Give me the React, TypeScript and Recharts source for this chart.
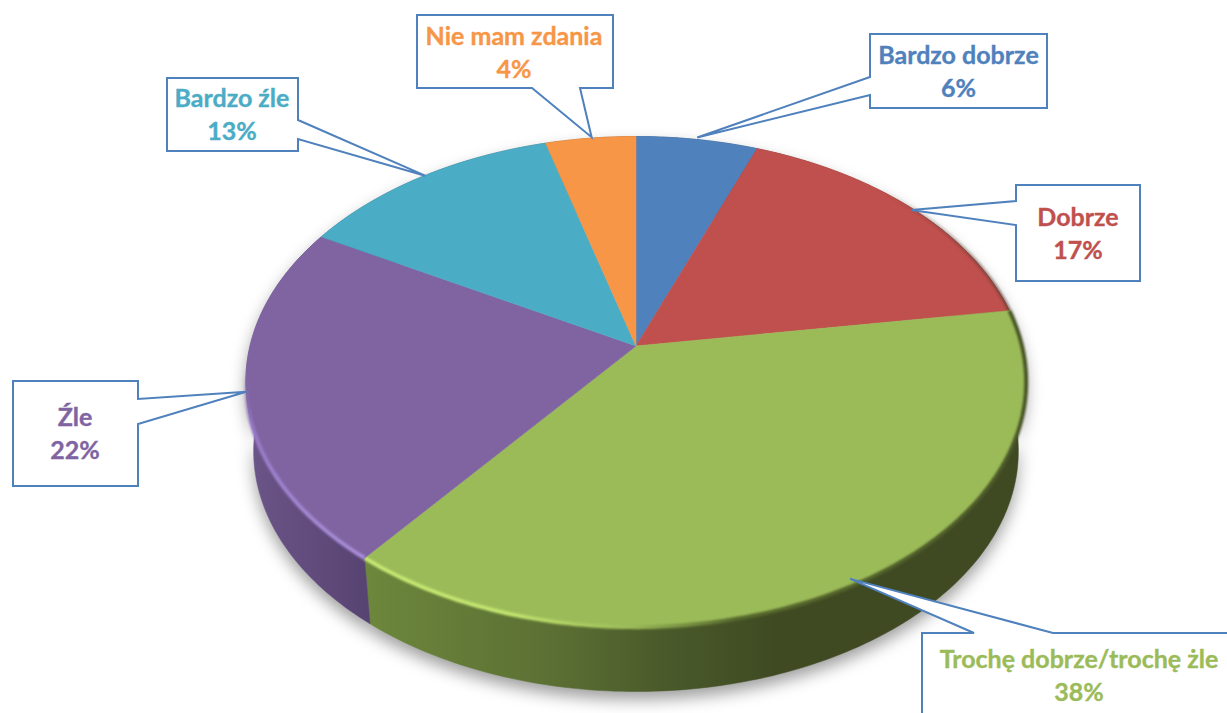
import React from 'react';
import { PieChart, Pie } from 'recharts';

const categories = ['Bardzo dobrze', 'Dobrze', 'Trochę dobrze/trochę źle', 'Źle', 'Bardzo źle', 'Nie mam zdania'];
const labelLines = ['Bardzo dobrze', 'Dobrze', 'Trochę dobrze/trochę żle', 'Źle', 'Bardzo źle', 'Nie mam zdania'];
// the labels show these rounded
const percents = [5.8, 16.8, 38.1, 22.4, 12.6, 4.3];

const sliceColors = ['#4f81bd', '#c0504d', '#9bbb59', '#8064a2', '#4bacc6', '#f79646'];
const wallColors = ['#2f4d71', '#73302e', 'url(#wallGreen)', 'url(#wallPurple)', '#2d6776', '#94592a'];
const rimColors = ['none', 'url(#rimRed)', 'url(#rimGreen)', 'url(#rimPurple)', 'none', 'none'];

// box of every callout, with the small correction of its tip where it is not on the rim
const callouts = [
  { x: 870, y: 34, w: 177, h: 74, side: 'left', a: 77, b: 95, tipDx: 0, tipDy: -2, tx: 958.5, base: 64 },
  { x: 1016, y: 185, w: 124, h: 96, side: 'left', a: 201, b: 225, tipDx: 0, tipDy: 2, tx: 1078, base: 226 },
  { x: 922, y: 633, w: 330, h: 120, side: 'top', a: 974, b: 1053, tipDx: -7, tipDy: -5, tx: 1079, base: 668 },
  { x: 13, y: 381, w: 125, h: 105, side: 'right', a: 399, b: 424, tipDx: 0, tipDy: -2, tx: 75, base: 426 },
  { x: 167, y: 78, w: 131, h: 73, side: 'right', a: 120, b: 139, tipDx: 3, tipDy: -1, tx: 232, base: 107 },
  { x: 417, y: 15, w: 196, h: 73, side: 'bottom', a: 532, b: 580, tipDx: 1, tipDy: -1, tx: 514, base: 45 },
];

const tableData = categories.map((name, i) => ({ name, value: percents[i] }));

const RADIUS = 386;
const CX = 636;
const CY = 346;
const PERSPECTIVE = 0.146;
const SQUASH = 0.622;
const FLOOR_SCALE = 0.98;
const DEPTH = 70;

// recharts angle (degrees) -> point on the tilted disc
function project(cx: number, cy: number, r: number, deg: number) {
  const a = (deg * Math.PI) / 180;
  const sx = Math.cos(a);
  const sy = -Math.sin(a);
  const w = 1 - PERSPECTIVE * sy;
  return { x: cx + (r * sx) / w, y: cy + (r * SQUASH * sy) / w };
}

function arcPoints(p: any) {
  const pts = [];
  const steps = Math.max(2, Math.ceil(Math.abs(p.endAngle - p.startAngle)));
  for (let i = 0; i <= steps; i++) {
    pts.push(project(p.cx, p.cy, p.outerRadius, p.startAngle + ((p.endAngle - p.startAngle) * i) / steps));
  }
  return pts;
}

function toPath(pts: { x: number; y: number }[]) {
  return pts.map((q, i) => `${i === 0 ? 'M' : 'L'}${q.x.toFixed(2)},${q.y.toFixed(2)}`).join(' ');
}

function wallPoints(p: any) {
  const top = arcPoints(p);
  const floor = top.map((q) => ({
    x: p.cx + (q.x - p.cx) * FLOOR_SCALE,
    y: p.cy + (q.y - p.cy) * FLOOR_SCALE + DEPTH,
  }));
  return [...top, ...floor.reverse()];
}

function ShadowShape(p: any) {
  return <path d={toPath(wallPoints(p)) + ' Z'} fill="#000" fillOpacity={0.38} transform="translate(0,8)" filter="url(#shadowBlur)" />;
}

function WallShape(p: any) {
  const fill = wallColors[p.index];
  return <path d={toPath(wallPoints(p)) + ' Z'} fill={fill} stroke={fill} strokeWidth={0.5} />;
}

function TopShape(p: any) {
  const pts = arcPoints(p);
  const color = sliceColors[p.index];
  const rim = rimColors[p.index];
  return (
    <g>
      <path d={`M${p.cx},${p.cy} ` + toPath(pts).replace('M', 'L') + ' Z'} fill={color} stroke={color} strokeWidth={0.6} />
      {rim !== 'none' && <path d={toPath(pts)} fill="none" stroke={rim} strokeWidth={4} filter="url(#rimBlur)" />}
    </g>
  );
}

function renderCallout(p: any) {
  const c = callouts[p.index];
  const rimTip = project(p.cx, p.cy, p.outerRadius, p.midAngle);
  const tip = `${(rimTip.x + c.tipDx).toFixed(1)},${(rimTip.y + c.tipDy).toFixed(1)}`;
  const r = c.x + c.w;
  const d = c.y + c.h;
  let outline = '';
  if (c.side === 'left') {
    outline = `M${c.x},${c.y} L${r},${c.y} L${r},${d} L${c.x},${d} L${c.x},${c.b} L${tip} L${c.x},${c.a} Z`;
  } else if (c.side === 'right') {
    outline = `M${c.x},${c.y} L${r},${c.y} L${r},${c.a} L${tip} L${r},${c.b} L${r},${d} L${c.x},${d} Z`;
  } else if (c.side === 'top') {
    outline = `M${c.x},${c.y} L${c.a},${c.y} L${tip} L${c.b},${c.y} L${r},${c.y} L${r},${d} L${c.x},${d} Z`;
  } else {
    outline = `M${c.x},${c.y} L${r},${c.y} L${r},${d} L${c.b},${d} L${tip} L${c.a},${d} L${c.x},${d} Z`;
  }
  const textProps = {
    x: c.tx,
    textAnchor: 'middle' as const,
    fill: sliceColors[p.index],
    stroke: sliceColors[p.index],
    strokeWidth: 0.35,
    fontFamily: 'Lato',
    fontWeight: 700,
    fontSize: 25,
  };
  return (
    <g key={`callout-${p.index}`}>
      <path d={outline} fill="#fff" stroke="#4f81bd" strokeWidth={2} />
      <text {...textProps} y={c.base}>{labelLines[p.index]}</text>
      <text {...textProps} y={c.base + 33}>{`${Math.round(percents[p.index])}%`}</text>
    </g>
  );
}

export default function App() {
  const pieProps = {
    data: tableData,
    dataKey: 'value',
    nameKey: 'name',
    cx: CX,
    cy: CY,
    innerRadius: 0,
    outerRadius: RADIUS,
    startAngle: 90,
    endAngle: -270,
    stroke: 'none',
    isAnimationActive: false,
    labelLine: false,
  };
  return (
    <div style={{ position: 'absolute', left: 0, top: 0, width: 1227, height: 713, overflow: 'hidden', background: '#fff' }}>
      <PieChart width={1227} height={713} margin={{ top: 0, right: 0, bottom: 0, left: 0 }}>
        <defs>
          <linearGradient id="wallGreen" gradientUnits="userSpaceOnUse" x1="365" y1="0" x2="1026" y2="0">
            <stop offset="0" stopColor="#6d873c" />
            <stop offset="0.3" stopColor="#5a6e33" />
            <stop offset="0.45" stopColor="#4a5a2a" />
            <stop offset="0.62" stopColor="#3f4a23" />
            <stop offset="1" stopColor="#3f4a23" />
          </linearGradient>
          <linearGradient id="wallPurple" gradientUnits="userSpaceOnUse" x1="246" y1="0" x2="370" y2="0">
            <stop offset="0" stopColor="#6c5588" />
            <stop offset="1" stopColor="#574372" />
          </linearGradient>
          <linearGradient id="rimGreen" gradientUnits="userSpaceOnUse" x1="365" y1="0" x2="1026" y2="0">
            <stop offset="0" stopColor="#c6e873" />
            <stop offset="0.22" stopColor="#c2e36e" />
            <stop offset="0.4" stopColor="#9bbb59" />
            <stop offset="0.56" stopColor="#55662c" />
            <stop offset="1" stopColor="#4a5628" />
          </linearGradient>
          <linearGradient id="rimPurple" gradientUnits="userSpaceOnUse" x1="0" y1="370" x2="0" y2="550">
            <stop offset="0" stopColor="#8064a2" stopOpacity={0} />
            <stop offset="0.3" stopColor="#9678c4" />
            <stop offset="1" stopColor="#a78cd6" />
          </linearGradient>
          <linearGradient id="rimRed" gradientUnits="userSpaceOnUse" x1="880" y1="0" x2="1010" y2="0">
            <stop offset="0" stopColor="#5a3a30" stopOpacity={0} />
            <stop offset="1" stopColor="#5a3a30" stopOpacity={0.6} />
          </linearGradient>
          <filter id="shadowBlur" filterUnits="userSpaceOnUse" x="0" y="0" width="1227" height="800">
            <feGaussianBlur stdDeviation="8" />
          </filter>
          <filter id="rimBlur" filterUnits="userSpaceOnUse" x="0" y="0" width="1227" height="800">
            <feGaussianBlur stdDeviation="1.3" />
          </filter>
        </defs>
        <Pie {...pieProps} shape={ShadowShape} />
        <Pie {...pieProps} shape={WallShape} />
        <Pie {...pieProps} shape={TopShape} label={renderCallout} />
      </PieChart>
    </div>
  );
}
